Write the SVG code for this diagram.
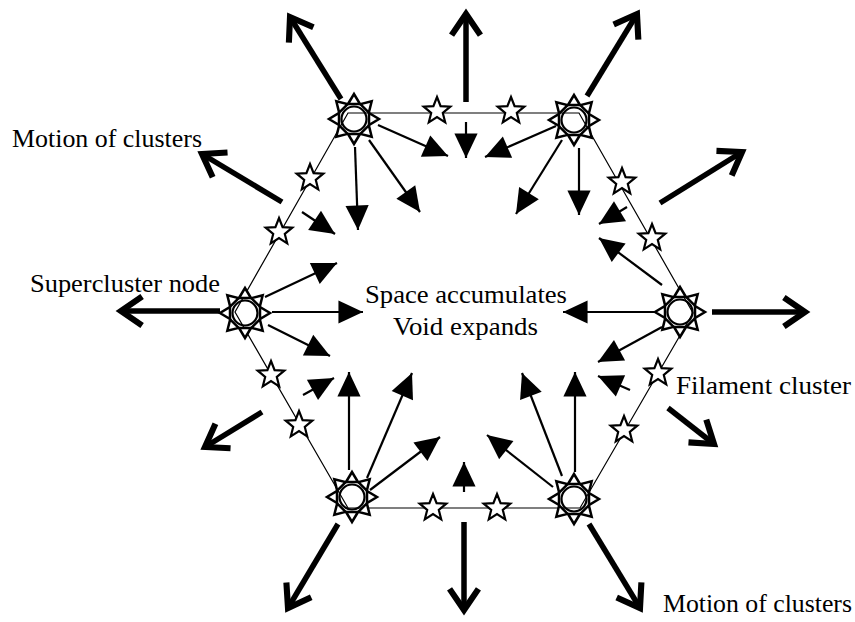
<svg xmlns="http://www.w3.org/2000/svg" width="855" height="622" viewBox="0 0 855 622">
<style>
.hex{fill:none;stroke:#000;stroke-width:1.2}
.out{fill:none;stroke:#000;stroke-width:5.5;marker-end:url(#big)}
.in{fill:none;stroke:#000;stroke-width:2.2;marker-end:url(#small)}
.star{fill:#fff;stroke:#000;stroke-width:2.2;stroke-linejoin:miter}
.lbl{font-family:"Liberation Serif",serif;font-size:25px;fill:#000}
</style>
<defs>
<marker id="big" markerUnits="userSpaceOnUse" markerWidth="40" markerHeight="40" viewBox="-25 -18 30 36" refX="0" refY="0" orient="auto">
<path d="M-19,-13 L0,0 L-19,13" fill="none" stroke="#000" stroke-width="5.5" stroke-linecap="butt" stroke-linejoin="miter"/>
</marker>
<marker id="small" markerUnits="userSpaceOnUse" markerWidth="30" markerHeight="30" viewBox="-20 -10 22 20" refX="0" refY="0" orient="auto">
<path d="M-18,-8.5 L0,0 L-18,8.5 Z" fill="#000"/>
</marker>
<g id="sun">
<circle cx="0" cy="0" r="12.5" fill="none" stroke="#000" stroke-width="2.2"/>
<path id="ray" d="M-6,-15 L0,-25 L6,-15 Z" fill="#fff" stroke="#000" stroke-width="2.5" stroke-linejoin="miter"/>
<use href="#ray" transform="rotate(45)"/>
<use href="#ray" transform="rotate(90)"/>
<use href="#ray" transform="rotate(135)"/>
<use href="#ray" transform="rotate(180)"/>
<use href="#ray" transform="rotate(225)"/>
<use href="#ray" transform="rotate(270)"/>
<use href="#ray" transform="rotate(315)"/>
</g>
<path id="st" class="star" d="M0,-14 L3.6,-4.9 L13.3,-4.3 L5.8,1.9 L8.2,11.3 L0,6 L-8.2,11.3 L-5.8,1.9 L-13.3,-4.3 L-3.6,-4.9 Z"/>
</defs>

<g id="connectors">
<polygon class="hex" points="348,113 579,113 693,313 580,508 348,508 235,312"/>
<!-- outward thick arrows -->
<line class="out" x1="341" y1="99" x2="290" y2="17"/>
<line class="out" x1="466" y1="102" x2="466" y2="14"/>
<line class="out" x1="587" y1="96" x2="637" y2="14"/>
<line class="out" x1="660" y1="203" x2="742" y2="152"/>
<line class="out" x1="712" y1="312" x2="805" y2="312"/>
<line class="out" x1="668" y1="408" x2="714" y2="444"/>
<line class="out" x1="589" y1="524" x2="640" y2="608"/>
<line class="out" x1="464" y1="522" x2="464" y2="610"/>
<line class="out" x1="338" y1="524" x2="288" y2="608"/>
<line class="out" x1="262" y1="412" x2="205" y2="447"/>
<line class="out" x1="220" y1="311" x2="121" y2="311"/>
<line class="out" x1="282" y1="202" x2="202" y2="154"/>
<!-- inward thin arrows -->
<line class="in" x1="378" y1="125" x2="448" y2="156"/>
<line class="in" x1="355" y1="147" x2="358" y2="230"/>
<line class="in" x1="369" y1="140" x2="420" y2="212"/>
<line class="in" x1="466" y1="122" x2="466" y2="158"/>
<line class="in" x1="556" y1="126" x2="485" y2="157"/>
<line class="in" x1="579" y1="148" x2="579" y2="215"/>
<line class="in" x1="562" y1="140" x2="516" y2="214"/>
<line class="in" x1="302" y1="212" x2="335" y2="234"/>
<line class="in" x1="627" y1="207" x2="599" y2="224"/>
<line class="in" x1="265" y1="297" x2="337" y2="263"/>
<line class="in" x1="272" y1="312" x2="363" y2="312"/>
<line class="in" x1="268" y1="325" x2="330" y2="356"/>
<line class="in" x1="655" y1="312" x2="563" y2="312"/>
<line class="in" x1="662" y1="285" x2="599" y2="238"/>
<line class="in" x1="662" y1="327" x2="598" y2="362"/>
<line class="in" x1="303" y1="395" x2="334" y2="378"/>
<line class="in" x1="630" y1="390" x2="598" y2="376"/>
<line class="in" x1="349" y1="470" x2="349" y2="372"/>
<line class="in" x1="367" y1="478" x2="412" y2="373"/>
<line class="in" x1="370" y1="490" x2="440" y2="437"/>
<line class="in" x1="464" y1="492" x2="464" y2="462"/>
<line class="in" x1="575" y1="472" x2="575" y2="372"/>
<line class="in" x1="562" y1="476" x2="522" y2="373"/>
<line class="in" x1="553" y1="487" x2="487" y2="435"/>
</g>

<g id="node-tl"><use href="#sun" x="354" y="119"/></g>
<g id="node-tr"><use href="#sun" x="574" y="120"/></g>
<g id="node-l"><use href="#sun" x="245" y="313"/></g>
<g id="node-r"><use href="#sun" x="680" y="312"/></g>
<g id="node-bl"><use href="#sun" x="352" y="497"/></g>
<g id="node-br"><use href="#sun" x="574" y="499"/></g>

<g id="filament-stars">
<use href="#st" x="437" y="111"/>
<use href="#st" x="511" y="111"/>
<use href="#st" x="310" y="178"/>
<use href="#st" x="279" y="232"/>
<use href="#st" x="622" y="182"/>
<use href="#st" x="652" y="238"/>
<use href="#st" x="271" y="375"/>
<use href="#st" x="299" y="425"/>
<use href="#st" x="658" y="373"/>
<use href="#st" x="624" y="430"/>
<use href="#st" x="433" y="508"/>
<use href="#st" x="497" y="508"/>
</g>

<g id="labels">
<text class="lbl" x="12" y="147" textLength="190" lengthAdjust="spacingAndGlyphs">Motion of clusters</text>
<text class="lbl" x="30" y="292" textLength="190" lengthAdjust="spacingAndGlyphs">Supercluster node</text>
<text class="lbl" x="365" y="303" textLength="202" lengthAdjust="spacingAndGlyphs">Space accumulates</text>
<text class="lbl" x="393" y="335" textLength="145" lengthAdjust="spacingAndGlyphs">Void expands</text>
<text class="lbl" x="676" y="394" textLength="175" lengthAdjust="spacingAndGlyphs">Filament cluster</text>
<text class="lbl" x="663" y="612" textLength="189" lengthAdjust="spacingAndGlyphs">Motion of clusters</text>
</g>
</svg>
